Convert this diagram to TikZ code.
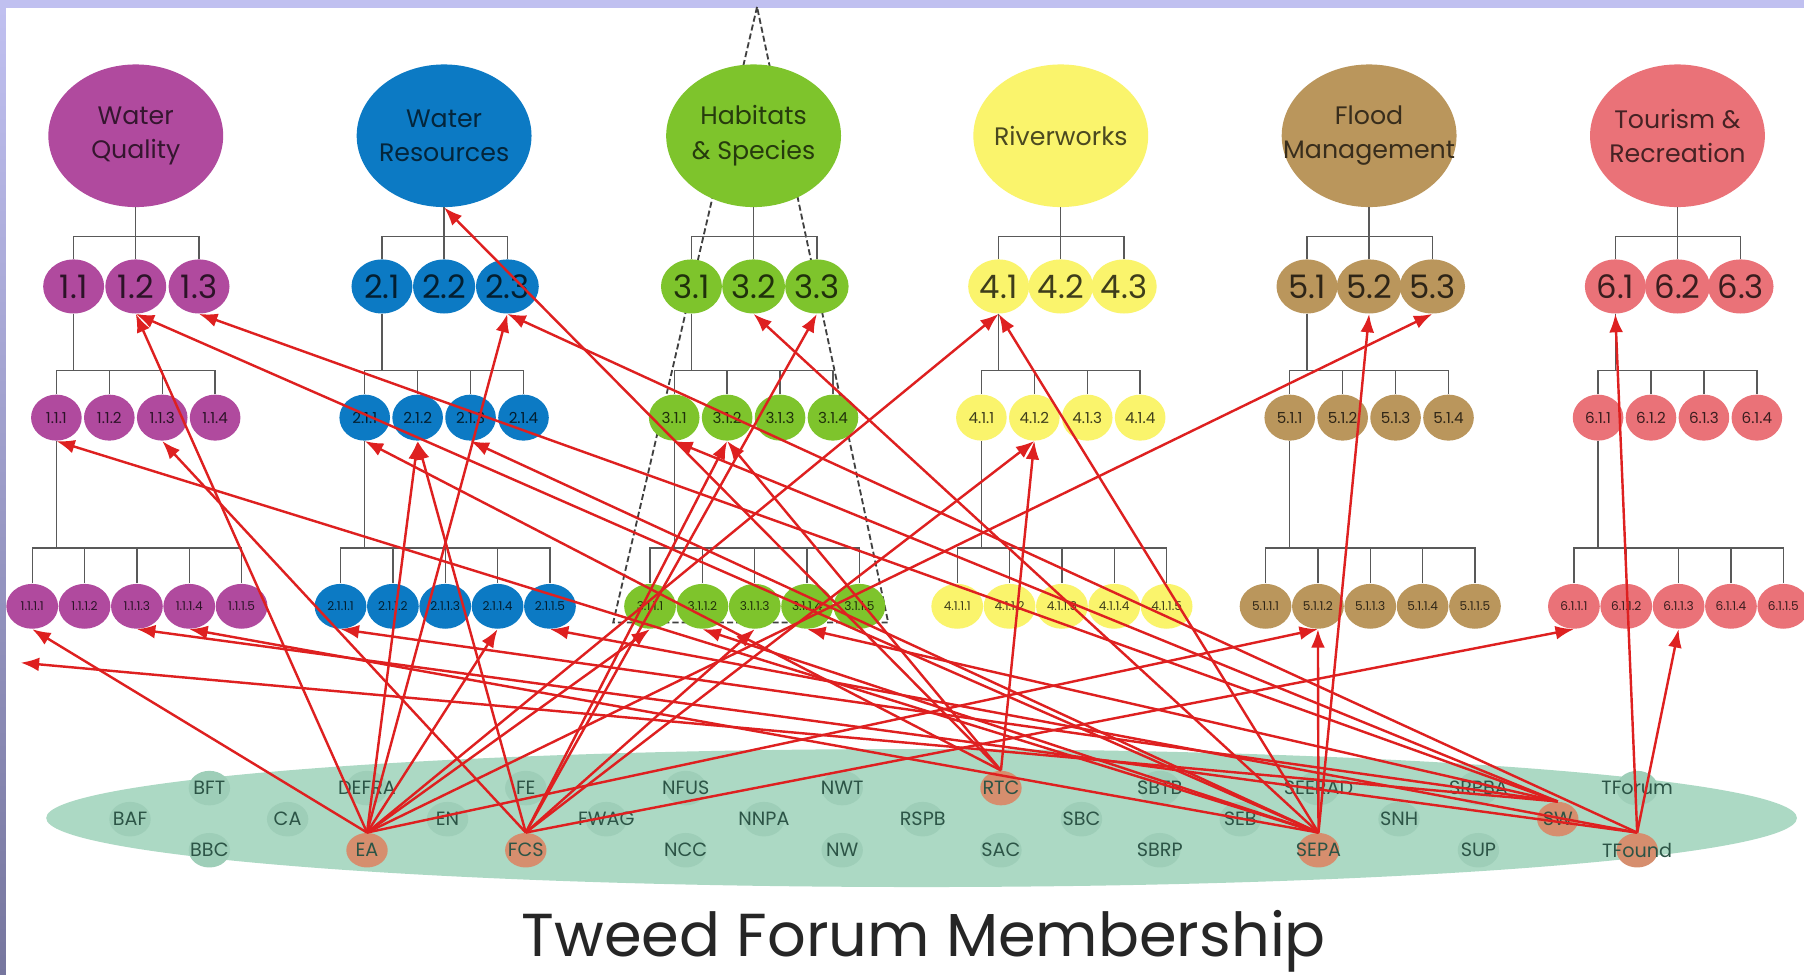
\documentclass[tikz,border=0pt]{standalone}
\usepackage{fontspec}
\setmainfont{Poppins}
\usetikzlibrary{calc,shapes,arrows.meta}

\definecolor{framecol}{RGB}{192,192,240}
\definecolor{framedark}{RGB}{118,118,158}
\definecolor{wqcol}{RGB}{176,74,158}
\definecolor{wrcol}{RGB}{12,122,196}
\definecolor{hscol}{RGB}{126,196,44}
\definecolor{rwcol}{RGB}{250,244,108}
\definecolor{fmcol}{RGB}{186,150,92}
\definecolor{trcol}{RGB}{234,114,120}
\definecolor{linkred}{RGB}{222,32,32}
\definecolor{forumcol}{RGB}{172,217,196}
\definecolor{halocol}{RGB}{158,206,184}
\definecolor{orgcol}{RGB}{214,142,110}
\definecolor{memtext}{RGB}{44,84,70}

\tikzset{
    topicnode/.style={ellipse, fill=#1, minimum width=3.04cm, minimum height=2.48cm, inner xsep=-12pt, inner ysep=-4pt, align=center, text=#1!30!black, font=\fontsize{12.5}{17}\selectfont},
    goalnode/.style={ellipse, fill=#1, minimum width=1.06cm, minimum height=0.94cm, inner sep=0pt, text=#1!25!black, font=\fontsize{16}{16}\selectfont},
    subgoalnode/.style={ellipse, fill=#1, minimum width=0.88cm, minimum height=0.8cm, inner sep=0pt, text=#1!25!black, font=\fontsize{7.5}{7.5}\selectfont},
    tasknode/.style={ellipse, fill=#1, minimum width=0.9cm, minimum height=0.78cm, inner sep=0pt, text=#1!25!black, font=\fontsize{6}{6}\selectfont},
    memnode/.style={ellipse, fill=#1, minimum width=0.72cm, minimum height=0.6cm, inner sep=0pt, text=memtext, font=\fontsize{9.5}{9.5}\selectfont},
    treeline/.style={draw=black!65, line width=0.7pt},
    redlink/.style={draw=linkred, line width=1.2pt, -{Latex[length=3.2mm,width=2.4mm]}}
}

\begin{document}
\begin{tikzpicture}[x=0.02cm, y=-0.02cm]
    % Frame
    \useasboundingbox (0,0) rectangle (1568,847);
    \fill[framecol] (0,0) rectangle (1568,847);
    \shade[top color=framecol, bottom color=framedark] (0,7) rectangle (5,847);
    \fill[white] (5,7) rectangle (1568,847);
    % Dashed outline round Habitats & Species
    \coordinate (apex) at (658,6);
    \draw[black!75, line width=0.9pt, dash pattern=on 3pt off 1.5pt] (apex) -- (533,541) -- (772,541) -- cycle;

    % Place tree nodes
    \foreach \g/\cx/\col/\ttl in {1/118/wqcol/{Water\\Quality}, 2/386/wrcol/{Water\\Resources}, 3/655/hscol/{Habitats\\\& Species}, 4/922/rwcol/{Riverworks}, 5/1190/fmcol/{Flood\\Management}, 6/1458/trcol/{Tourism \&\\Recreation}}{
        \node[topicnode=\col] (top\g) at (\cx,118) {\ttl};
        \foreach \i/\dx in {1/-54,2/0,3/55}{
            \node[goalnode=\col] (g\g-\i) at (\cx+\dx,249) {\g.\i};
            \path[treeline] (top\g.south) -- ++(0,25) -| (g\g-\i.north);
        }
        \foreach \i in {1,...,4}{
            \node[subgoalnode=\col] (g\g-1-\i) at (\cx-115+46*\i,363) {\g.1.\i};
            \path[treeline] (g\g-1.south) -- ++(0,49) -| (g\g-1-\i.north);
        }
        \foreach \i in {1,...,5}{
            \node[tasknode=\col] (g\g-1-1-\i) at (\cx-135.5+45.5*\i,527) {\g.1.1.\i};
            \path[treeline] (g\g-1-1.south) -- ++(0,93) -| (g\g-1-1-\i.north);
        }
    }

    % Membership
    \node[ellipse, fill=forumcol, minimum width=30.44cm, minimum height=2.4cm] (forum) at (801,711) {};
    \foreach \m/\x/\y/\c in {BFT/182/685/halocol, DEFRA/319/685/halocol, FE/457/685/halocol, NFUS/596/685/halocol, NWT/732/685/halocol, RTC/870/685/orgcol, SBTB/1008/685/halocol, SEERAD/1146/685/halocol, SRPBA/1285/685/halocol, TForum/1423/685/halocol, BAF/113/712/halocol, CA/250/712/halocol, EN/389/712/halocol, FWAG/527/712/halocol, NNPA/664/712/halocol, RSPB/802/712/halocol, SBC/940/712/halocol, SEB/1078/712/halocol, SNH/1216/712/halocol, SW/1354/712/orgcol, BBC/182/739/halocol, EA/319/739/orgcol, FCS/457/739/orgcol, NCC/596/739/halocol, NW/732/739/halocol, SAC/870/739/halocol, SBRP/1008/739/halocol, SEPA/1146/739/orgcol, SUP/1285/739/halocol, TFound/1423/739/orgcol}
        \node[memnode=\c] (\m) at (\x,\y) {\makebox[0pt]{\m}};
    \node[font=\fontsize{30}{30}\selectfont, text=black!85, anchor=base] (title) at (803,831) {Tweed Forum Membership};

    % Links
    \coordinate (loose) at (18,576);
    \foreach \t in {g1-2, g1-1-1-1, g2-3, g2-1-2, g2-1-1-4, g3-1-1-1, g4-1, g5-3, g5-1-1-2}
        \path[redlink] (EA.north) -- (\t.south);
    \foreach \t in {g1-1-3, g2-1-2, g3-3, g3-1-2, g4-1-2, g6-1-1-1, g3-1-1-3}
        \path[redlink] (FCS.north) -- (\t.south);
    \foreach \t in {top2, g2-1-1, g3-1-2, g4-1-2}
        \path[redlink] (RTC.north) -- (\t.south);
    \foreach \t in {g1-2, g1-1-1, g2-1-3, g3-2, g4-1, g5-2, g5-1-1-2, g1-1-1-4, g3-1-1-2}
        \path[redlink] (SEPA.north) -- (\t.south);
    \foreach \t in {g1-3, g3-1-1, g2-1-1-1, g3-1-1-4}
        \path[redlink] (SW.north) -- (\t.south);
    \path[redlink] (SW.north) -- (loose);
    \foreach \t in {g6-1, g6-1-1-3, g1-1-1-3, g2-3, g2-1-1-5}
        \path[redlink] (TFound.north) -- (\t.south);
\end{tikzpicture}
\end{document}
